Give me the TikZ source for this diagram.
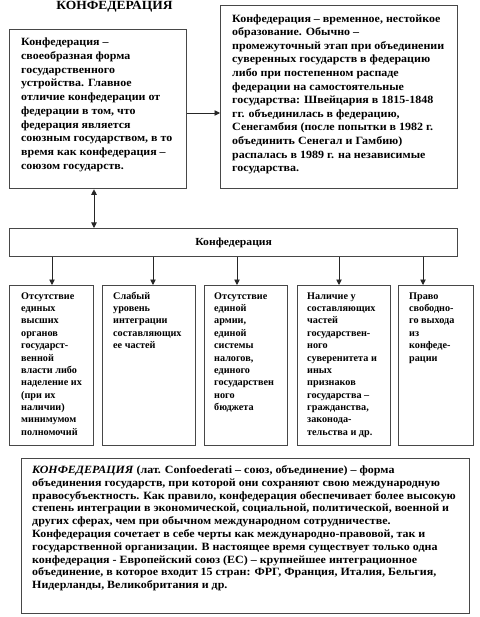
\documentclass[tikz,border=0pt]{standalone}
\usepackage{fontspec}
\setmainfont{Liberation Serif}
\newfontfamily\wide{Liberation Serif}[FakeStretch=1.08]
\usetikzlibrary{arrows.meta}
\begin{document}
\begin{tikzpicture}[x=1pt,y=-1pt,
  box/.style={draw=black!72, line width=1.3pt, anchor=north west, inner sep=0pt},
  arr/.style={-{Triangle[width=5.5pt,length=5.5pt]}, line width=0.9pt, black!85},
  darr/.style={{Triangle[width=5.5pt,length=5.5pt]}-{Triangle[width=5.5pt,length=5.5pt]}, line width=0.9pt, black!85},
  txt/.style={anchor=north west, inner sep=0pt, align=left},
  fa/.style={font=\wide\fontsize{11.05}{13.7}\selectfont\bfseries},
  fb/.style={font=\wide\fontsize{11.1}{13.6}\selectfont\bfseries},
  fc/.style={font=\fontsize{10.2}{12.36}\selectfont\bfseries},
  fd/.style={font=\wide\fontsize{11.1}{12.8}\selectfont\bfseries}]
\useasboundingbox (0,0) rectangle (479,617);

% title
\node[anchor=base, inner sep=0pt, font=\wide\fontsize{12.5}{14}\selectfont\bfseries] (title) at (114.5,10) {КОНФЕДЕРАЦИЯ};

% boxes
\node[box, minimum width=177pt, minimum height=159pt] (left) at (9,29) {};
\node[box, minimum width=237pt, minimum height=183pt] (right) at (220,5) {};
\node[box, minimum width=448pt, minimum height=28pt] (conf) at (9,228) {};
\node[box, minimum width=84pt, minimum height=160pt] (b1) at (9,285) {};
\node[box, minimum width=93pt, minimum height=160pt] (b2) at (102,285) {};
\node[box, minimum width=83pt, minimum height=160pt] (b3) at (204,285) {};
\node[box, minimum width=93pt, minimum height=160pt] (b4) at (297,285) {};
\node[box, minimum width=75pt, minimum height=160pt] (b5) at (398,285) {};
\node[box, minimum width=448pt, minimum height=155pt] (bot) at (21,458) {};

% texts (north west at baseline - 8)
\node[txt, fa] (tleft) at (21,37.7) {\rule{0pt}{8pt}Конфедерация –\\
своеобразная форма\\
государственного\\
устройства. Главное\\
отличие конфедерации от\\
федерации в том, что\\
федерация является\\
союзным государством, в то\\
время как конфедерация –\\
союзом государств.};

\node[txt, fb] (tright) at (232,14) {\rule{0pt}{8pt}Конфедерация – временное, нестойкое\\
образование. Обычно –\\
промежуточный этап при объединении\\
суверенных государств в федерацию\\
либо при постепенном распаде\\
федерации на самостоятельные\\
государства: Швейцария в 1815-1848\\
гг. объединилась в федерацию,\\
Сенегамбия (после попытки в 1982 г.\\
объединить Сенегал и Гамбию)\\
распалась в 1989 г. на независимые\\
государства.};

\node[anchor=center, inner sep=0pt, font=\wide\fontsize{10.8}{12}\selectfont\bfseries] (tconf) at (conf.center) {Конфедерация};

\node[txt, fc] (t1) at (21,291) {\rule{0pt}{8pt}Отсутствие\\
единых\\
высших\\
органов\\
государст-\\
венной\\
власти либо\\
наделение их\\
(при их\\
наличии)\\
минимумом\\
полномочий};

\node[txt, fc] (t2) at (113,291) {\rule{0pt}{8pt}Слабый\\
уровень\\
интеграции\\
составляющих\\
ее частей};

\node[txt, fc] (t3) at (214,291) {\rule{0pt}{8pt}Отсутствие\\
единой\\
армии,\\
единой\\
системы\\
налогов,\\
единого\\
государствен\\
ного\\
бюджета};

\node[txt, fc] (t4) at (307,291) {\rule{0pt}{8pt}Наличие у\\
составляющих\\
частей\\
государствен-\\
ного\\
суверенитета и\\
иных\\
признаков\\
государства –\\
гражданства,\\
законода-\\
тельства и др.};

\node[txt, fc] (t5) at (409,291) {\rule{0pt}{8pt}Право\\
свободно-\\
го выхода\\
из\\
конфеде-\\
рации};

\node[txt, fd] (tbot) at (32,465.3) {\rule{0pt}{8pt}\textit{КОНФЕДЕРАЦИЯ} (лат. Confoederati – союз, объединение) – форма\\
объединения государств, при которой они сохраняют свою международную\\
правосубъектность. Как правило, конфедерация обеспечивает более высокую\\
степень интеграции в экономической, социальной, политической, военной и\\
других сферах, чем при обычном международном сотрудничестве.\\
Конфедерация сочетает в себе черты как международно-правовой, так и\\
государственной организации. В настоящее время существует только одна\\
конфедерация - Европейский союз (ЕС) – крупнейшее интеграционное\\
объединение, в которое входит 15 стран: ФРГ, Франция, Италия, Бельгия,\\
Нидерланды, Великобритания и др.};

% connectors
\coordinate (ya) at (0,113);
\coordinate (xa) at (94,0);
\coordinate (x1) at (52,0);
\coordinate (x2) at (153,0);
\coordinate (x3) at (237,0);
\coordinate (x4) at (339,0);
\coordinate (x5) at (423,0);
\draw[arr] (left.east |- ya) -- (right.west |- ya);
\draw[darr] (left.south -| xa) -- (conf.north -| xa);
\draw[arr] (conf.south -| x1) -- (b1.north -| x1);
\draw[arr] (conf.south -| x2) -- (b2.north -| x2);
\draw[arr] (conf.south -| x3) -- (b3.north -| x3);
\draw[arr] (conf.south -| x4) -- (b4.north -| x4);
\draw[arr] (conf.south -| x5) -- (b5.north -| x5);
\end{tikzpicture}
\end{document}
